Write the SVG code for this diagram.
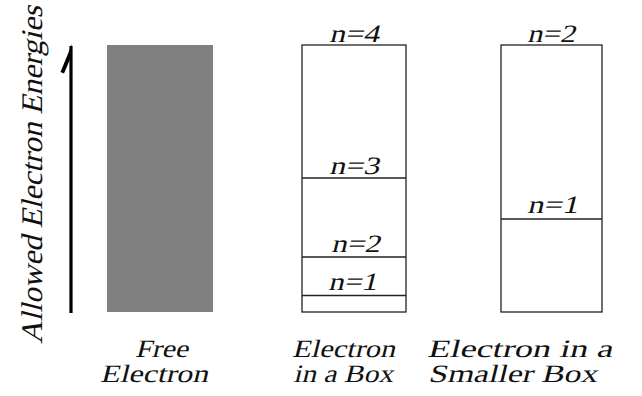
<svg xmlns="http://www.w3.org/2000/svg" width="642" height="396" viewBox="0 0 642 396">
<style>
.box{fill:#fff;stroke:#222;stroke-width:1.3;}
.lvl{stroke:#222;stroke-width:1.3;}
</style>
<rect width="642" height="396" fill="#fff"/>
<g id="axis">
<line x1="71" y1="313" x2="71" y2="46" stroke="#000" stroke-width="3.2"/>
<path d="M72,44 L60.5,72 L64,73.5 L70.5,58 Z" fill="#000"/>
<text font-family="Liberation Serif" font-style="normal" fill="#111" font-size="30" transform="translate(42,175) rotate(-90) skewX(-14)" text-anchor="middle" textLength="338" lengthAdjust="spacingAndGlyphs">Allowed Electron Energies</text>
</g>
<g id="free">
<rect x="107" y="45" width="106" height="267" fill="#808080"/>
<text font-family="Liberation Serif" font-style="normal" fill="#111" font-size="25" transform="translate(135,357) skewX(-14)" textLength="53" lengthAdjust="spacingAndGlyphs">Free</text>
<text font-family="Liberation Serif" font-style="normal" fill="#111" font-size="25" transform="translate(100,382) skewX(-14)" textLength="108" lengthAdjust="spacingAndGlyphs">Electron</text>
</g>
<g id="box">
<rect class="box" x="302" y="45" width="104" height="267"/>
<line class="lvl" x1="302" y1="178" x2="406" y2="178"/>
<line class="lvl" x1="302" y1="257" x2="406" y2="257"/>
<line class="lvl" x1="302" y1="295.5" x2="406" y2="295.5"/>
<text font-family="Liberation Serif" font-style="normal" fill="#111" font-size="25" transform="translate(329,42) skewX(-14)" textLength="50" lengthAdjust="spacingAndGlyphs">n=4</text>
<text font-family="Liberation Serif" font-style="normal" fill="#111" font-size="25" transform="translate(329,174) skewX(-14)" textLength="50" lengthAdjust="spacingAndGlyphs">n=3</text>
<text font-family="Liberation Serif" font-style="normal" fill="#111" font-size="25" transform="translate(331,252) skewX(-14)" textLength="49" lengthAdjust="spacingAndGlyphs">n=2</text>
<text font-family="Liberation Serif" font-style="normal" fill="#111" font-size="25" transform="translate(328,290) skewX(-14)" textLength="49" lengthAdjust="spacingAndGlyphs">n=1</text>
<text font-family="Liberation Serif" font-style="normal" fill="#111" font-size="25" transform="translate(292,357) skewX(-14)" textLength="103" lengthAdjust="spacingAndGlyphs">Electron</text>
<text font-family="Liberation Serif" font-style="normal" fill="#111" font-size="25" transform="translate(293,382) skewX(-14)" textLength="100" lengthAdjust="spacingAndGlyphs">in a Box</text>
</g>
<g id="smallbox">
<rect class="box" x="501" y="45" width="101" height="267"/>
<line class="lvl" x1="501" y1="219" x2="602" y2="219"/>
<text font-family="Liberation Serif" font-style="normal" fill="#111" font-size="25" transform="translate(527,42) skewX(-14)" textLength="48" lengthAdjust="spacingAndGlyphs">n=2</text>
<text font-family="Liberation Serif" font-style="normal" fill="#111" font-size="25" transform="translate(527,213) skewX(-14)" textLength="51" lengthAdjust="spacingAndGlyphs">n=1</text>
<text font-family="Liberation Serif" font-style="normal" fill="#111" font-size="25" transform="translate(427,357) skewX(-14)" textLength="185" lengthAdjust="spacingAndGlyphs">Electron in a</text>
<text font-family="Liberation Serif" font-style="normal" fill="#111" font-size="25" transform="translate(428,382) skewX(-14)" textLength="169" lengthAdjust="spacingAndGlyphs">Smaller Box</text>
</g>
</svg>
